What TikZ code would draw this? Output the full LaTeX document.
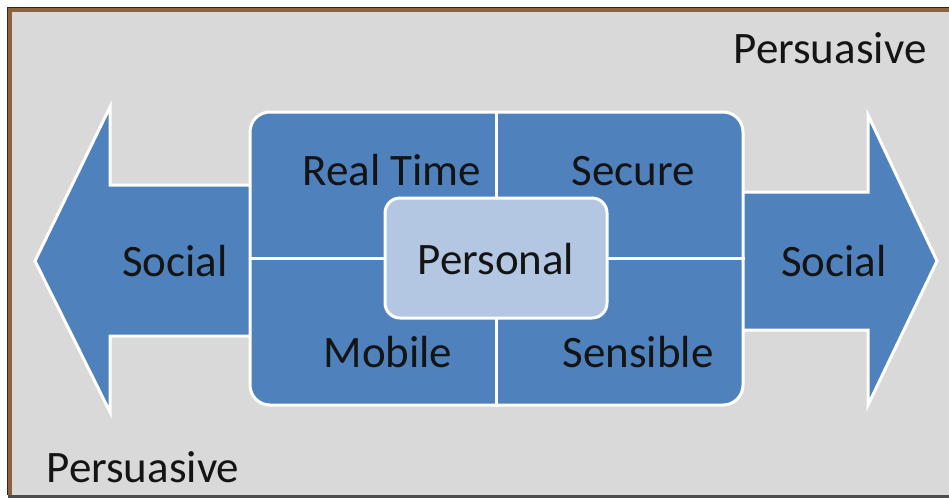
\documentclass[tikz,border=0pt]{standalone}
\usepackage{fontspec}
\setmainfont{Carlito}
\usetikzlibrary{positioning}
\definecolor{panel}{HTML}{D9D9D9}
\definecolor{officeblue}{HTML}{4F81BD}
\definecolor{paleblue}{HTML}{B4C7E2}
\definecolor{framebrown}{HTML}{8A6240}
\definecolor{framedark}{HTML}{3A2614}
\definecolor{ink}{HTML}{141414}
\tikzset{
    block/.style = {fill = officeblue, draw = white, line width = 3pt, line join = miter},
    word/.style = {font = \fontsize{45}{45}\selectfont, text = ink, anchor = base, inner sep = 0pt}
}

\begin{document}
\begin{tikzpicture}[x = 1pt, y = -1pt]
    \useasboundingbox (0, 0) rectangle (949, 498);
    \fill[white] (0, 0) rectangle (949, 498);
    \fill[panel] (10, 10) rectangle (949, 495);
    % frame
    \draw[framebrown, line width = 4pt] (10, 495) -- (10, 10) -- (949, 10);
    \draw[framedark, line width = 0.7pt] (7.8, 495) -- (7.8, 7.8) -- (949, 7.8);
    \draw[black!70, line width = 3pt] (8, 496.5) -- (949, 496.5);

    % arrows
    \draw[block] (35, 261) -- (110, 107) -- (110, 185) -- (262, 185)
        -- (262, 336) -- (110, 336) -- (110, 412) -- cycle;
    \draw[block] (937, 261) -- (868, 115) -- (868, 192) -- (732, 192)
        -- (732, 330) -- (868, 330) -- (868, 405) -- cycle;

    \node[block, rounded corners = 20pt, minimum width = 493pt, minimum height = 293pt]
        (core) at (496.5, 258.5) {};
    \draw[white, line width = 3.5pt] (core.north) -- (core.south);
    \draw[white, line width = 3.5pt] (core.west) -- (core.east);
    \node[block, fill = paleblue, rounded corners = 15pt, minimum width = 222pt, minimum height = 120pt]
        (personal) at (496, 258) {};

    \node[word] (realtime) at (392, 185) {Real Time};
    \node[word] (secure) at (633, 185) {Secure};
    \node[word] (mobile) at (388, 367) {Mobile};
    \node[word] (sensible) at (638, 367) {Sensible};
    \node[word] (personaltext) at (496, 274) {Personal};
    \node[word] (socialleft) at (175, 276) {Social};
    \node[word] (socialright) at (834, 276) {Social};
    \node[word] (persuasivetop) at (830, 63) {Persuasive};
    \node[word] (persuasivebottom) at (143, 482) {Persuasive};
\end{tikzpicture}
\end{document}
